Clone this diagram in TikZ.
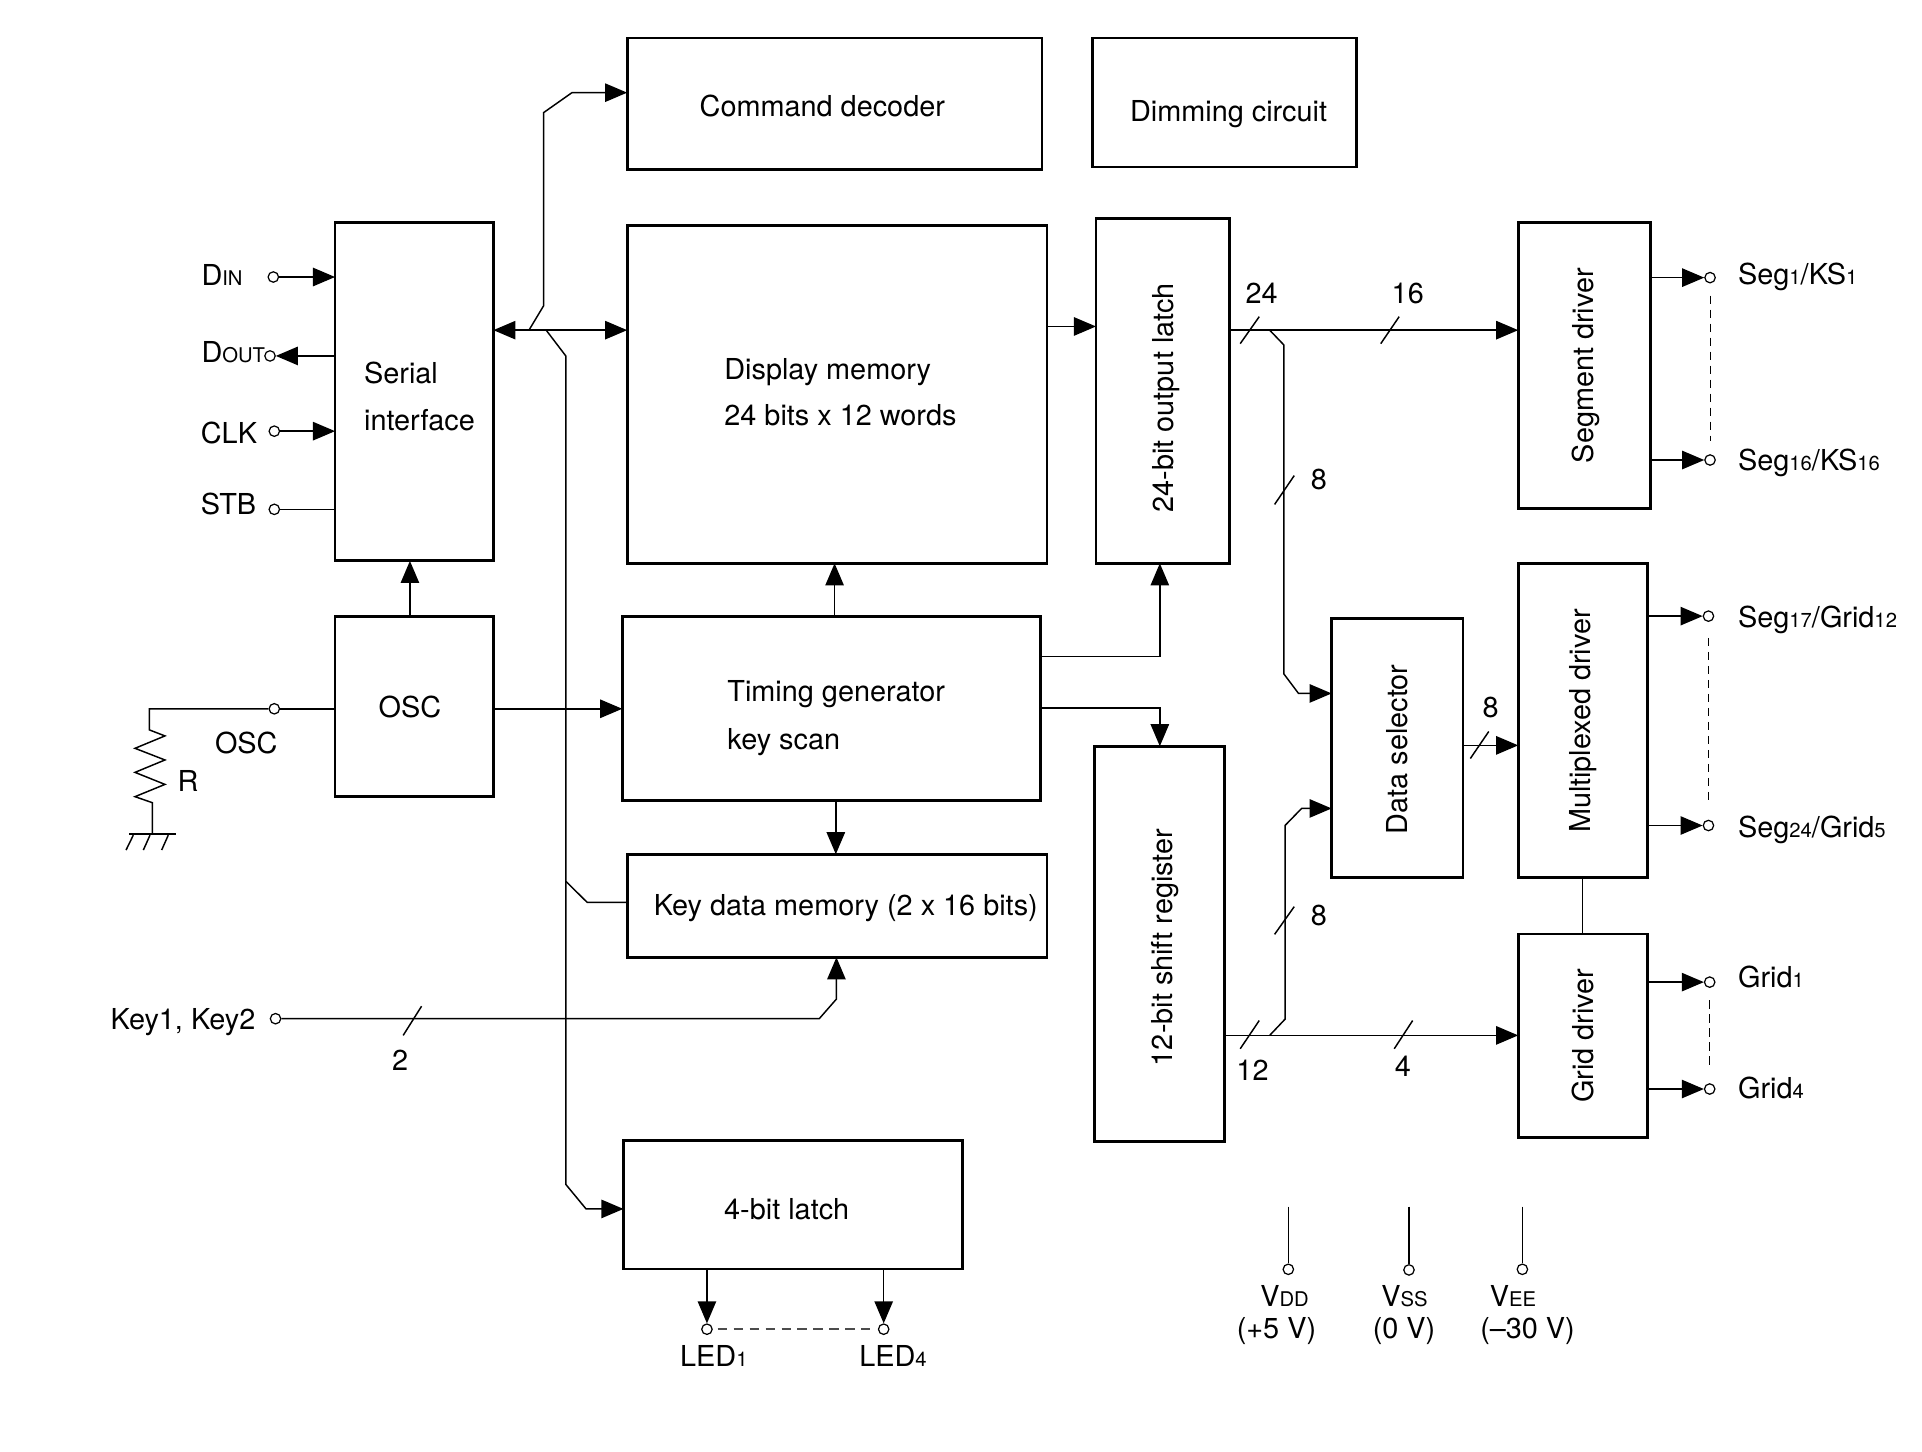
\documentclass[tikz,border=0pt]{standalone}
\usepackage{fontspec}
\setmainfont{TeX Gyre Heros}
\usetikzlibrary{arrows.meta}
\newcommand\subx[1]{{\fontsize{16.5}{18}\selectfont #1}}
\begin{document}
\begin{tikzpicture}[x=1pt,y=-1pt,
  box/.style={draw, line width=2.3pt, anchor=north west, outer sep=0pt, inner sep=0pt},
  conn/.style={line width=1.2pt},
  arr/.style={conn,-{Triangle[length=18pt,width=15pt]}},
  darr/.style={conn,{Triangle[length=18pt,width=15pt]}-{Triangle[length=18pt,width=15pt]}},
  pin/.style={circle, draw, line width=1pt, minimum size=8.5pt, inner sep=0pt, fill=white},
  txt/.style={font=\fontsize{23.5}{28}\selectfont, inner sep=0pt},
  vtxt/.style={txt, rotate=90, anchor=base},
  dots/.style={line width=0.9pt, dash pattern=on 6.8pt off 4.6pt},
  ledots/.style={line width=1.3pt, dash pattern=on 7.5pt off 5.5pt, draw=black!70},
]
\useasboundingbox (0,0) rectangle (1566,1183);
% ---------- blocks ----------
\node[box, minimum width=338pt, minimum height=107pt] (cmd) at (511,31) {};
\node[box, minimum width=215pt, minimum height=105pt] (dim) at (890,31) {};
\node[box, minimum width=129pt, minimum height=276pt] (ser) at (273,181) {};
\node[box, minimum width=342pt, minimum height=275pt] (dmem) at (511,184) {};
\node[box, minimum width=109pt, minimum height=281pt] (olatch) at (893,178) {};
\node[box, minimum width=108pt, minimum height=233pt] (segd) at (1237,181) {};
\node[box, minimum width=129pt, minimum height=147pt] (osc) at (273,502) {};
\node[box, minimum width=341pt, minimum height=150pt] (tgen) at (507,502) {};
\node[box, minimum width=342pt, minimum height=84pt] (kdm) at (511,696) {};
\node[box, minimum width=106pt, minimum height=322pt] (shreg) at (892,608) {};
\node[box, minimum width=107pt, minimum height=211pt] (dsel) at (1085,504) {};
\node[box, minimum width=105pt, minimum height=256pt] (mux) at (1237,459) {};
\node[box, minimum width=105pt, minimum height=166pt] (gridd) at (1237,761) {};
\node[box, minimum width=276pt, minimum height=105pt] (latch4) at (508,929) {};
% ---------- block texts ----------
\node[txt, anchor=base] (tcmd) at (670,95) {Command decoder};
\node[txt, anchor=base] (tdim) at (1001,99) {Dimming circuit};
\node[txt, anchor=base west] (tser1) at (296.5,312.5) {Serial};
\node[txt, anchor=base west] (tser2) at (296.5,351) {interface};
\node[txt, anchor=base west] (tdm1) at (590,309.3) {Display memory};
\node[txt, anchor=base west] (tdm2) at (590,346.4) {24 bits x 12 words};
\node[txt, anchor=base west] (ttg1) at (592.5,571.7) {Timing generator};
\node[txt, anchor=base west] (ttg2) at (592.5,610.4) {key scan};
\node[txt, anchor=base] (tosc) at (334,585) {OSC};
\node[txt, anchor=base west] (tkdm) at (532.5,746.2) {Key data memory (2 x 16 bits)};
\node[txt, anchor=base] (tl4) at (641,993.4) {4-bit latch};
\node[vtxt] (tol) at (956,324) {24-bit output latch};
\node[vtxt] (tsd) at (1298.5,298) {Segment driver};
\node[vtxt] (tsr) at (955,772) {12-bit shift register};
\node[vtxt] (tds) at (1146.5,610.5) {Data selector};
\node[vtxt] (tmx) at (1295.5,587.5) {Multiplexed driver};
\node[vtxt] (tgd) at (1298,844) {Grid driver};
% ---------- pin labels ----------
\node[txt, anchor=base west] (lDIN) at (164,233) {D\subx{IN}};
\node[txt, anchor=base west] (lDOUT) at (164,295) {D\subx{OUT}};
\node[txt, anchor=base west] (lCLK) at (163.5,361) {CLK};
\node[txt, anchor=base west] (lSTB) at (163.5,419.6) {STB};
\node[txt, anchor=base west] (lOSC) at (175,613.8) {OSC};
\node[txt, anchor=base west] (lR) at (144.5,644.5) {R};
\node[txt, anchor=base west] (lKEY) at (90,838.7) {Key1, Key2};
\node[txt, anchor=base] (n2) at (326,872.6) {2};
\node[txt, anchor=base west] (lL1) at (554,1113.4) {LED\subx{1}};
\node[txt, anchor=base west] (lL4) at (700,1113.4) {LED\subx{4}};
\node[txt, anchor=base west] (lS1) at (1416,231.7) {Seg\subx{1}/KS\subx{1}};
\node[txt, anchor=base west] (lS16) at (1416,383) {Seg\subx{16}/KS\subx{16}};
\node[txt, anchor=base west] (lS17) at (1416,511.3) {Seg\subx{17}/Grid\subx{12}};
\node[txt, anchor=base west] (lS24) at (1416,682) {Seg\subx{24}/Grid\subx{5}};
\node[txt, anchor=base west] (lG1) at (1416,804.7) {Grid\subx{1}};
\node[txt, anchor=base west] (lG4) at (1416,895.3) {Grid\subx{4}};
\node[txt, anchor=base] (n24) at (1028,247.2) {24};
\node[txt, anchor=base] (n16) at (1147,247.2) {16};
\node[txt, anchor=base] (n8a) at (1074.5,399) {8};
\node[txt, anchor=base] (n8b) at (1214.5,585) {8};
\node[txt, anchor=base] (n8c) at (1074.5,753.8) {8};
\node[txt, anchor=base] (n12) at (1020.5,880.2) {12};
\node[txt, anchor=base] (n4) at (1143,877.2) {4};
\node[txt, anchor=base] (lVDD) at (1046.6,1064.7) {V\subx{DD}};
\node[txt, anchor=base] (lVDDv) at (1040,1090.5) {(+5 V)};
\node[txt, anchor=base] (lVSS) at (1144.4,1064.7) {V\subx{SS}};
\node[txt, anchor=base] (lVSSv) at (1144,1090.5) {(0 V)};
\node[txt, anchor=base] (lVEE) at (1232.8,1064.7) {V\subx{EE}};
\node[txt, anchor=base] (lVEEv) at (1244.6,1090.5) {(–30 V)};
% ---------- pins ----------
\node[pin] (pDIN) at (222.7,225.7) {};
\node[pin] (pDOUT) at (220,290) {};
\node[pin] (pCLK) at (223.5,351.3) {};
\node[pin] (pSTB) at (223.5,415) {};
\node[pin] (pOSC) at (223.5,577.5) {};
\node[pin] (pKEY) at (224.5,830) {};
\node[pin] (pL1) at (576,1083) {};
\node[pin] (pL4) at (720,1083) {};
\node[pin] (pS1) at (1393.3,226.2) {};
\node[pin] (pS16) at (1393.3,374.8) {};
\node[pin] (pS17) at (1392,502) {};
\node[pin] (pS24) at (1392,672.6) {};
\node[pin] (pG1) at (1393,800.2) {};
\node[pin] (pG4) at (1393,887.3) {};
\node[pin] (pVDD) at (1049.7,1034.2) {};
\node[pin] (pVSS) at (1148,1034.7) {};
\node[pin] (pVEE) at (1240.4,1034.2) {};
% ---------- serial interface pins ----------
\draw[arr] (pDIN) -- (pDIN -| ser.west);
\draw[arr] (pDOUT -| ser.west) -- (pDOUT);
\draw[arr] (pCLK) -- (pCLK -| ser.west);
\draw[conn] (pSTB) -- (pSTB -| ser.west);
% ---------- internal bus ----------
\coordinate (bus) at (431,269);
\draw[darr] (bus -| ser.east) -- (bus -| dmem.west);
\draw[arr] (bus) -- ++(12,-20) -- ++(0,-157.3) -- ++(23,-16.2) -- ([yshift=9pt]cmd.west);
\coordinate (vtop) at (461,290);
\coordinate (vkd) at (461,718);
\draw[conn] ([xshift=14pt]bus) -- (vtop) -- (vkd) -- ++(17.5,17.3) -- ([yshift=2.7pt]kdm.west);
\draw[arr] (vkd) -- (461,965) -- ++(16.5,20) -- ([yshift=-3.5pt]latch4.west);
% ---------- key inputs ----------
\draw[arr] (pKEY) -- (667.5,830) -- (681.5,814) -- ([xshift=-0.5pt]kdm.south);
\draw[conn] (328.5,843.6) -- (343.5,819.8);
% ---------- oscillator ----------
\draw[conn] (pOSC) -- (pOSC -| osc.west);
\draw[conn] (pOSC) -- (121.7,577.5) -- (121.7,594.7) -- (134.4,599.6) -- (110,609.7)
  -- (134.4,619.2) -- (110,629.3) -- (134.4,639.1) -- (110,649.1) -- (124.1,654) -- (124.1,679.5);
\draw[line width=2.3pt] (105.4,679.5) -- (143.4,679.5);
\draw[conn] (108.6,680.5) -- (102.7,692.6) (122.2,680.5) -- (116.8,692.6) (137.1,680.5) -- (131.7,692.6);
\draw[arr] ([xshift=-3.5pt]osc.north) -- ([xshift=-3.5pt]ser.south);
\draw[arr] (pOSC -| osc.east) -- (pOSC -| tgen.west);
% ---------- timing generator ----------
\draw[arr] ([xshift=2.5pt]tgen.north) -- ([xshift=2.5pt]tgen.north |- dmem.south);
\draw[arr] ([xshift=3.5pt]tgen.south) -- ([xshift=3.5pt]tgen.south |- kdm.north);
\draw[arr] ([yshift=55.5pt]dmem.east) -- ([yshift=55.5pt]dmem.east -| olatch.west);
\draw[arr] ([yshift=42.3pt]tgen.east) -| ([xshift=-2.5pt]olatch.south);
\draw[arr] (tgen.east) -| (shreg.north);
% ---------- right side ----------
\draw[arr] (olatch.east |- bus) -- (segd.west |- bus);
\draw[arr] (1034.5,269) -- (1046,281) -- (1046,549) -- (1058,565) -- ([yshift=44.5pt]dsel.west);
\draw[conn] (1010.5,280) -- (1026,258);
\draw[conn] (1125,280) -- (1140,258);
\draw[conn] (1038.5,411) -- (1054.5,387.5);
\draw[arr] ([yshift=2.2pt]dsel.east) -- ([yshift=2.2pt]dsel.east -| mux.west);
\draw[conn] (1198,618) -- (1213,596);
\draw[conn] (mux.south) -- (gridd.north);
\draw[arr] ([yshift=-74.6pt]shreg.east) -- ([yshift=-74.6pt]shreg.east -| gridd.west);
\draw[conn] (1010.5,854.5) -- (1026,831.5);
\draw[conn] (1136,854.5) -- (1151,831.5);
\draw[arr] (1034.5,843.6) -- (1047,830.4) -- (1047,672.6) -- (1060.5,658.7) -- ([yshift=-49.2pt]dsel.west);
\draw[conn] (1038.5,761.3) -- (1054.5,738.7);
% ---------- outputs ----------
\draw[arr] (pS1 -| segd.east) -- (pS1);
\draw[arr] (pS16 -| segd.east) -- (pS16);
\draw[arr] (pS17 -| mux.east) -- (pS17);
\draw[arr] (pS24 -| mux.east) -- (pS24);
\draw[arr] (pG1 -| gridd.east) -- (pG1);
\draw[arr] (pG4 -| gridd.east) -- (pG4);
\draw[dots, shorten <=10pt, shorten >=11pt] (pS1.south) -- (pS16.north);
\draw[dots, shorten <=13pt, shorten >=13pt] (pS17.south) -- (pS24.north);
\draw[dots, shorten <=10pt, shorten >=14pt] (pG1.south) -- (pG4.north);
\draw[arr] (pL1 |- latch4.south) -- (pL1);
\draw[arr] (pL4 |- latch4.south) -- (pL4);
\draw[ledots, shorten <=4pt, shorten >=4pt] (pL1.east) -- (pL4.west);
% ---------- supplies ----------
\coordinate (tVDD) at (1049.7,983.2);
\coordinate (tVSS) at (1148,983.2);
\coordinate (tVEE) at (1240.4,983.2);
\draw[conn] (tVDD) -- (pVDD);
\draw[conn] (tVSS) -- (pVSS);
\draw[conn] (tVEE) -- (pVEE);
\end{tikzpicture}
\end{document}
